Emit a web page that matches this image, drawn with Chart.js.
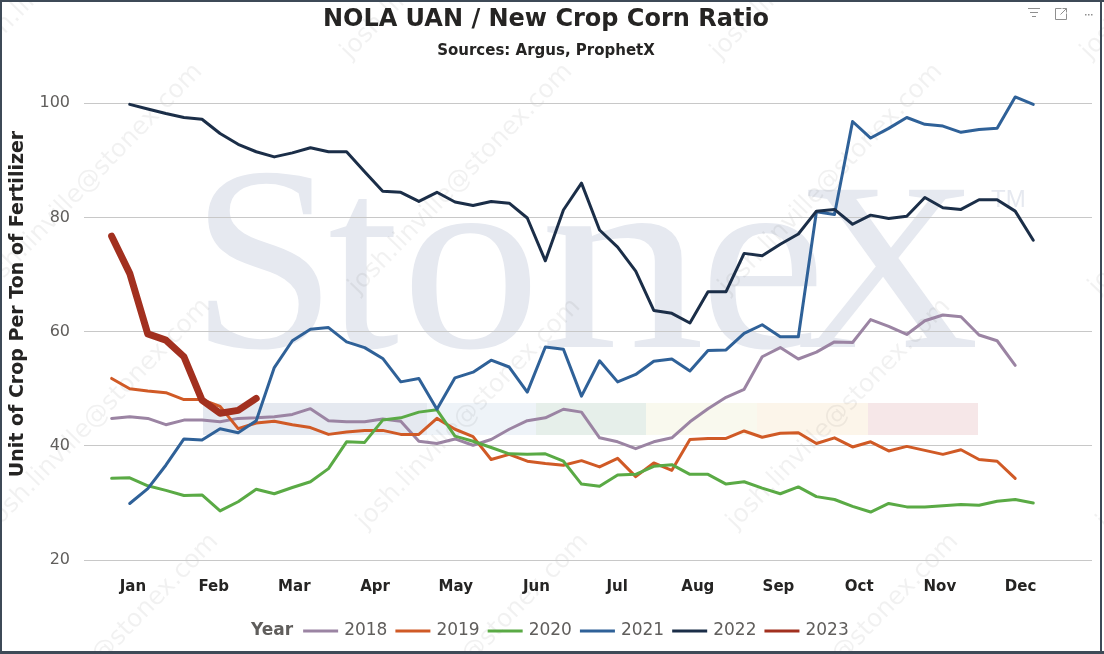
<!DOCTYPE html>
<html><head><meta charset="utf-8">
<script src="https://cdn.jsdelivr.net/npm/chart.js@4.4.0/dist/chart.umd.min.js"></script>
<style>html,body{margin:0;padding:0;background:#fff;overflow:hidden}canvas{display:block}</style>
</head><body>
<canvas id="c" width="1104" height="654" style="width:1104px;height:654px"></canvas>
<script>
// ---------------- DATA ----------------
const weeks = [1,2,3,4,5,6,7,8,9,10,11,12,13,14,15,16,17,18,19,20,21,22,23,24,25,26,
               27,28,29,30,31,32,33,34,35,36,37,38,39,40,41,42,43,44,45,46,47,48,49,50,51,52];
const monthLabels = ['Jan','Feb','Mar','Apr','May','Jun','Jul','Aug','Sep','Oct','Nov','Dec'];
const yTicks = [20,40,60,80,100];
const seriesNames = ['2018','2019','2020','2021','2022','2023'];

const v2018 = [44.8,45.1,44.8,43.7,44.5,44.5,44.2,44.8,44.9,45.1,45.5,46.5,44.4,44.2,44.2,44.7,44.3,
               40.8,40.4,41.2,40.1,41.1,42.9,44.4,44.9,46.4,45.9,41.4,40.7,39.5,40.7,41.4,44.2,46.5,
               48.5,49.9,55.6,57.2,55.2,56.4,58.2,58.1,62.1,60.9,59.5,61.9,62.9,62.6,59.4,58.4,54.1];
const v2019 = [51.8,50.0,49.6,49.3,48.1,48.1,46.9,43.0,44.0,44.3,43.7,43.2,42.0,42.4,42.7,42.7,42.0,
               42.0,44.8,42.9,41.6,37.6,38.5,37.3,36.9,36.6,37.4,36.3,37.8,34.6,37.0,35.7,41.1,41.3,
               41.3,42.6,41.5,42.2,42.3,40.4,41.4,39.8,40.7,39.1,39.9,39.2,38.5,39.3,37.6,37.3,34.3];
const v2020 = [34.3,34.4,33.0,32.2,31.3,31.4,28.6,30.2,32.4,31.6,32.7,33.7,36.0,40.7,40.6,44.5,44.9,
               45.9,46.3,41.7,40.8,39.7,38.6,38.5,38.6,37.3,33.3,32.9,34.9,35.0,36.4,36.7,35.0,35.0,
               33.3,33.7,32.6,31.6,32.8,31.1,30.6,29.4,28.4,29.9,29.3,29.3,29.5,29.7,29.6,30.3,30.6,30.0];
const v2021 = [null,29.9,32.5,36.6,41.2,41.0,43.0,42.3,44.4,53.7,58.4,60.4,60.7,58.2,57.2,55.3,51.2,
               51.8,46.4,51.9,52.9,55.0,53.8,49.4,57.3,56.9,48.7,54.9,51.2,52.5,54.8,55.2,53.1,56.7,
               56.8,59.7,61.2,59.1,59.1,81.0,80.5,96.8,93.9,95.6,97.5,96.3,96.0,94.9,95.4,95.6,101.1,99.8];
const v2022 = [null,99.8,99.0,98.2,97.5,97.2,94.7,92.8,91.5,90.6,91.3,92.2,91.5,91.5,88.0,84.6,84.4,
               82.8,84.4,82.7,82.1,82.8,82.5,79.9,72.4,81.3,86.0,77.8,74.8,70.6,63.7,63.2,61.5,67.0,
               67.0,73.7,73.3,75.3,77.1,81.1,81.4,78.8,80.4,79.8,80.2,83.5,81.7,81.4,83.1,83.1,81.1,76.0];
const v2023 = [76.7,70.2,59.6,58.5,55.6,48.0,45.7,46.2,48.3];

const seriesValues = [v2018, v2019, v2020, v2021, v2022, v2023];

// ---------------- STYLE / LAYOUT ----------------
const seriesColors = ['#9b84a3','#d05a26','#5aaa45','#2f6198','#1b2e48','#a2301f'];
const seriesWidths = [3,3,3,3,3,7];
const FONT = '"DejaVu Sans", "Liberation Sans", sans-serif';
const SERIF = '"Liberation Serif", "DejaVu Serif", serif';
const monthTickStart = 2.18, monthTickStep = 4.465;

const datasets = seriesNames.map((name, s) => ({
  label: name,
  data: weeks.map((w, i) => ({x: w, y: (seriesValues[s][i] === undefined ? null : seriesValues[s][i])})),
  borderColor: seriesColors[s],
  backgroundColor: seriesColors[s],
  borderWidth: seriesWidths[s],
  pointRadius: 0,
  tension: 0,
  borderJoinStyle: 'round',
  borderCapStyle: 'round',
  fill: false,
  spanGaps: false,
  order: seriesNames.length - s
}));

// draw a glyph so that its ink fills [left, right] horizontally
function inkGlyph(ctx, ch, left, right, base, size) {
  ctx.font = size + 'px ' + SERIF;
  const m = ctx.measureText(ch);
  const ink = m.actualBoundingBoxLeft + m.actualBoundingBoxRight;
  const sx = (right - left) / ink;
  ctx.save();
  ctx.translate(left, base);
  ctx.scale(sx, 1);
  ctx.fillText(ch, m.actualBoundingBoxLeft, 0);
  ctx.restore();
}

// background: watermark
const bgPlugin = {
  id: 'bg',
  beforeDraw(chart) {
    const ctx = chart.ctx;
    ctx.save();
    ctx.fillStyle = '#ffffff';
    ctx.fillRect(0, 0, chart.width, chart.height);
    // coloured band
    const bands = [['#e5e9f0',203,315],['#e5e9f0',315,427],['#eef3f8',427,536],['#e6efea',536,646],
                   ['#f9f9ee',646,757],['#fcf5ea',757,868],['#f6e7e8',868,978]];
    bands.forEach(b => { ctx.fillStyle = b[0]; ctx.fillRect(b[1], 403, b[2]-b[1], 32); });
    // big logo text
    ctx.fillStyle = '#e6e9f0';
    ctx.textBaseline = 'alphabetic';
    const glyphs = [['S',207,322,263],['t',328,400,263],['o',410,532,263],
                    ['n',545,705,263],['e',708,820,263],['X',800,975,240]];
    glyphs.forEach(g => inkGlyph(ctx, g[0], g[1], g[2], 347, g[3]));
    ctx.font = '24px "Liberation Sans", sans-serif';
    ctx.fillText('TM', 991, 207);
    // diagonal email watermark
    ctx.fillStyle = 'rgba(0,0,0,0.055)';
    ctx.font = '25px ' + FONT;
    for (let r = 0; r < 4; r++) {
      for (let k = 0; k < 4; k++) {
        const sx = -20 + 370 * k + 8 * r, sy = 60 + 235 * r;
        ctx.save();
        ctx.translate(sx, sy);
        ctx.rotate(-46 * Math.PI / 180);
        ctx.fillText('josh.linville@stonex.com', 0, 0);
        ctx.restore();
      }
    }
    ctx.restore();
  }
};

// foreground: y title, legend, icons, frame
const fgPlugin = {
  id: 'fg',
  afterDraw(chart) {
    const ctx = chart.ctx;
    ctx.save();
    // y axis title
    ctx.save();
    ctx.translate(18, 304);
    ctx.rotate(-Math.PI / 2);
    ctx.textAlign = 'center';
    ctx.textBaseline = 'middle';
    ctx.fillStyle = '#252423';
    ctx.font = 'bold 19px ' + FONT;
    ctx.fillText('Unit of Crop Per Ton of Fertilizer', 0, 0);
    ctx.restore();
    // legend
    const y = 631;
    ctx.textBaseline = 'middle';
    ctx.textAlign = 'left';
    ctx.fillStyle = '#605e5c';
    ctx.font = 'bold 17px ' + FONT;
    let x = 251;
    ctx.fillText('Year', x, y);
    x += ctx.measureText('Year').width + 10;
    ctx.font = '17px ' + FONT;
    chart.data.datasets.forEach(ds => {
      ctx.strokeStyle = ds.borderColor;
      ctx.lineWidth = 3;
      ctx.beginPath(); ctx.moveTo(x, y); ctx.lineTo(x + 35, y); ctx.stroke();
      x += 41;
      ctx.fillStyle = '#605e5c';
      ctx.fillText(ds.label, x, y);
      x += ctx.measureText(ds.label).width + 8;
    });
    // top-right icons
    ctx.strokeStyle = '#8f8f8f'; ctx.fillStyle = '#8f8f8f'; ctx.lineWidth = 1;
    ctx.beginPath();
    ctx.moveTo(1028, 8.5); ctx.lineTo(1040, 8.5);
    ctx.moveTo(1030, 12.5); ctx.lineTo(1038, 12.5);
    ctx.moveTo(1032, 16.5); ctx.lineTo(1036, 16.5);
    ctx.stroke();
    ctx.beginPath();
    ctx.moveTo(1061.5, 8.5); ctx.lineTo(1055.5, 8.5); ctx.lineTo(1055.5, 19.5); ctx.lineTo(1066.5, 19.5); ctx.lineTo(1066.5, 13.5);
    ctx.moveTo(1060.5, 14.5); ctx.lineTo(1066.5, 8.5);
    ctx.moveTo(1062.5, 8.5); ctx.lineTo(1066.5, 8.5); ctx.lineTo(1066.5, 12.5);
    ctx.stroke();
    [1085, 1088, 1091].forEach(cx => ctx.fillRect(cx, 14, 1.5, 1.5));
    // frame
    ctx.fillStyle = '#3e4a57';
    ctx.fillRect(0, 0, 1104, 2);
    ctx.fillRect(0, 0, 2, 654);
    ctx.fillRect(1100, 0, 2, 654);
    ctx.fillRect(0, 651, 1104, 3);
    ctx.restore();
  }
};

new Chart(document.getElementById('c').getContext('2d'), {
  type: 'line',
  data: { datasets },
  options: {
    responsive: false,
    animation: false,
    devicePixelRatio: 1,
    layout: { padding: { left: 0, right: 12, top: 0, bottom: 60 } },
    plugins: {
      legend: { display: false },
      tooltip: { enabled: false },
      title: { display: true, text: 'NOLA UAN / New Crop Corn Ratio', color: '#252423',
               font: { family: FONT, size: 24, weight: 'bold' }, padding: { top: 5, bottom: 0 } },
      subtitle: { display: true, text: 'Sources: Argus, ProphetX', color: '#252423',
               font: { family: FONT, size: 15, weight: 'bold' }, padding: { top: 8, bottom: 32 } }
    },
    scales: {
      x: {
        type: 'linear', min: -0.53, max: 55.25,
        grid: { display: false, drawTicks: false },
        border: { display: false },
        afterBuildTicks: s => { s.ticks = monthLabels.map((m, i) => ({ value: monthTickStart + i * monthTickStep })); },
        afterFit: s => { s.height = 34; },
        ticks: { autoSkip: false, maxRotation: 0, minRotation: 0, padding: 18, color: '#252423',
                 font: { family: FONT, size: 15, weight: 'bold' },
                 callback: (v, i) => monthLabels[i] }
      },
      y: {
        min: 20, max: 102,
        afterBuildTicks: s => { s.ticks = yTicks.map(v => ({ value: v })); },
        afterFit: s => { s.width = 84; },
        grid: { color: '#c8c8c8', lineWidth: 1, drawTicks: false },
        border: { display: false },
        ticks: { padding: 14, color: '#605e5c', font: { family: FONT, size: 16 } },
        title: { display: false }
      }
    }
  },
  plugins: [bgPlugin, fgPlugin]
});
</script>
</body></html>
